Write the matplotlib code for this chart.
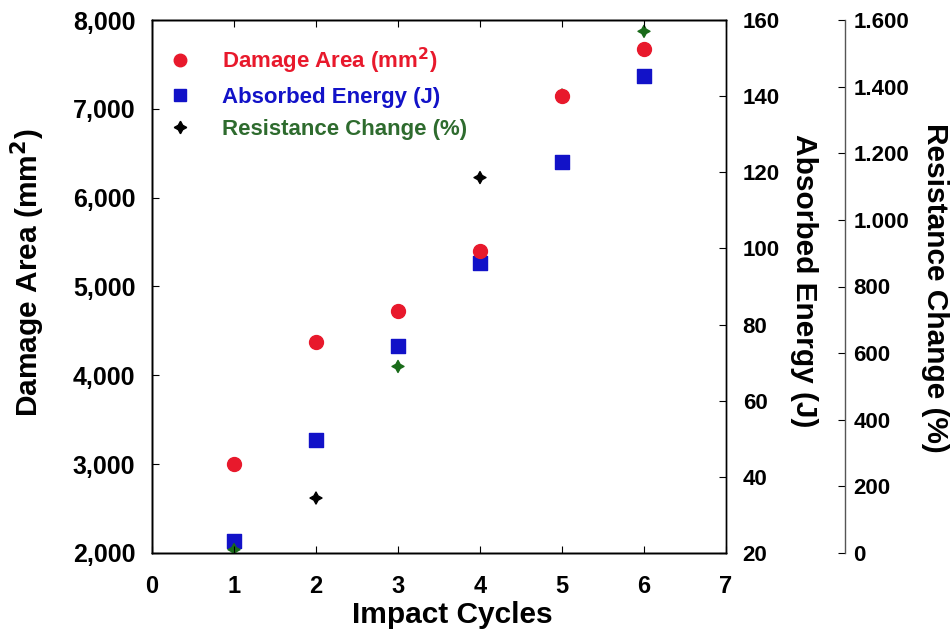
import numpy as np
import matplotlib
matplotlib.use('Agg')
import matplotlib.pyplot as plt
from matplotlib.ticker import FuncFormatter

plt.rcParams['font.family'] = ['Liberation Sans', 'DejaVu Sans']
plt.rcParams['font.weight'] = 'bold'

# data
cycles = [1, 2, 3, 4, 5, 6]
damage_area = [3000, 4380, 4720, 5400, 7150, 7670]       # mm^2
absorbed_energy = [23.2, 49.8, 74.4, 96.3, 122.8, 145.4]  # J
resistance_change = [10, 165, 560, 1127, 1375, 1566]      # %
res_colors = ['#1a6b1a', 'black', '#1a6b1a', 'black', '#1a6b1a', '#1a6b1a']

W, H = 950, 637
x0, x1, ytop, ybot = 152, 726, 20, 553  # axes box in pixels

fig = plt.figure(figsize=(9.5, 6.37), dpi=100)
ax = fig.add_axes([x0 / W, 1 - ybot / H, (x1 - x0) / W, (ybot - ytop) / H])
ax2 = ax.twinx()
ax3 = ax.twinx()
ax3.spines['right'].set_position(('axes', (845 - x0) / (x1 - x0)))

star = (4, 1, 0)
ax.scatter(cycles, damage_area, marker='o', s=100, color='#e8192c', zorder=3)
ax2.scatter(cycles, absorbed_energy, marker='s', s=110, color='#1212c8', zorder=3)
ax3.scatter(cycles, resistance_change, marker=star, s=75, c=res_colors, zorder=3)

ax.set_xlim(0, 7)
ax.set_ylim(2000, 8000)
ax2.set_ylim(20, 160)
ax3.set_ylim(0, 1600)

ax.set_xticks(range(0, 8))
ax.set_yticks(range(2000, 8001, 1000))
ax2.set_yticks(range(20, 161, 20))
ax3.set_yticks(range(0, 1601, 200))

ax.yaxis.set_major_formatter(FuncFormatter(lambda v, p: f'{int(v):,}'))
ax3.yaxis.set_major_formatter(FuncFormatter(lambda v, p: f'{int(v):,}'.replace(',', '.')))

ax.tick_params(axis='both', direction='in', top=True, length=5)
ax.tick_params(axis='y', labelsize=18, pad=12)
ax.tick_params(axis='x', labelsize=17, pad=16)
ax2.tick_params(axis='y', direction='in', labelsize=16, length=5, pad=12)
ax3.tick_params(axis='y', direction='in', labelsize=16, length=5, pad=6)

lab = dict(fontsize=21.5, ha='center', va='center')
fig.text(452 / W, 1 - 615 / H, 'Impact Cycles', **lab)
fig.text(28 / W, 1 - 273 / H, 'Damage Area (mm$^2$)', rotation=90, **lab)
fig.text(804 / W, 1 - 281 / H, 'Absorbed Energy (J)', rotation=-90, **lab)
fig.text(935 / W, 1 - 288 / H, 'Resistance Change (%)', rotation=-90, **lab)

for a in (ax, ax2, ax3):
    for s in a.spines.values():
        s.set_linewidth(1.0)
ax3.spines['right'].set_color('#555555')

ax.set_zorder(3)
ax.patch.set_visible(False)

leg_p1 = plt.Line2D([], [], marker='o', color='#e8192c', linestyle='none', markersize=9)
leg_p2 = plt.Line2D([], [], marker='s', color='#1212c8', linestyle='none', markersize=9)
leg_p3 = plt.Line2D([], [], marker=star, color='black', linestyle='none', markersize=9)
ax.legend([leg_p1, leg_p2, leg_p3],
          ['Damage Area (mm$^2$)', 'Absorbed Energy (J)', 'Resistance Change (%)'],
          loc='upper left', bbox_to_anchor=(-0.005, 0.99), frameon=False, fontsize=16,
          labelcolor=['#e8192c', '#1212c8', '#2e6b2e'], handlelength=1.0,
          handletextpad=1.4, labelspacing=0.5)

fig.savefig('out.png', dpi=100)
